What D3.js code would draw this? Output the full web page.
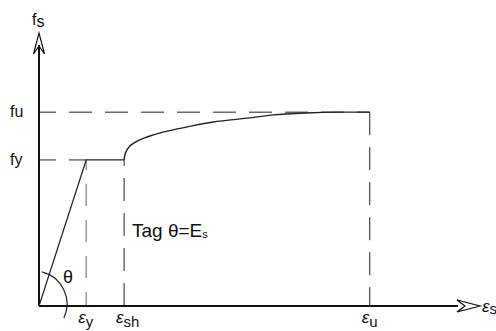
<!DOCTYPE html>
<html lang="en">

<head>
  <meta charset="utf-8">
  <title>Steel stress-strain</title>
  <script src="https://d3js.org/d3.v7.min.js" charset="utf-8"></script>
  <style type="text/css">
    body { margin: 0; background: #fff; }
    text { font-family: "Liberation Sans", Arial, sans-serif; fill: #111; }
    .guide { fill: none; stroke: #222; stroke-width: 1; stroke-dasharray: 23, 13; }
  </style>
</head>

<body>
  <script type="text/javascript">

    // characteristic strains (arbitrary units) and their labels
    var strainNames = ["y", "sh", "u"];
    var strainValues = [10.7, 19.3, 75];
    // characteristic stresses
    var stressNames = ["y", "u"];
    var stressValues = [53.5, 71];
    // strain-hardening branch
    var hardStrain = [19.3, 19.6, 20.6, 22.5, 24.5, 28.1, 33.6, 39.5, 47.8, 53.1, 60.8, 67.6, 75];
    var hardStress = [53.5, 56.0, 58.6, 60.6, 61.9, 63.7, 65.6, 67.4, 68.9, 70.0, 70.7, 71, 71];

    var width = 496, height = 331;

    var svg = d3.select("body").append("svg")
      .attr("width", width)
      .attr("height", height);

    var x = d3.scaleLinear().domain([0, 100]).range([39, 480]);
    var y = d3.scaleLinear().domain([0, 100]).range([306, 33]);

    var ey = strainValues[0], esh = strainValues[1], eu = strainValues[2];
    var fy = stressValues[0], fu = stressValues[1];

    // guide lines
    svg.append("line").attr("class", "guide")
      .attr("x1", x(0)).attr("y1", y(fu)).attr("x2", x(eu)).attr("y2", y(fu))
      .attr("stroke-dashoffset", 6);
    svg.append("line").attr("class", "guide")
      .attr("x1", x(0)).attr("y1", y(fy)).attr("x2", x(ey)).attr("y2", y(fy))
      .attr("stroke-dashoffset", 6);
    svg.append("line").attr("class", "guide")
      .attr("x1", x(eu)).attr("y1", y(fu)).attr("x2", x(eu)).attr("y2", y(0))
      .style("stroke-dasharray", "23,12");
    svg.append("line").attr("class", "guide")
      .attr("x1", x(esh)).attr("y1", y(0)).attr("x2", x(esh)).attr("y2", y(fy))
      .style("stroke-dasharray", "23,12");
    svg.append("line").attr("class", "guide")
      .attr("x1", x(ey)).attr("y1", y(0)).attr("x2", x(ey)).attr("y2", y(fy))
      .style("stroke", "#999")
      .style("stroke-width", 1.5)
      .style("stroke-dasharray", "22,14")
      .attr("stroke-dashoffset", 8);

    // elastic + yield plateau
    var lin = d3.line().x(function (d) { return x(d[0]); }).y(function (d) { return y(d[1]); });
    svg.append("path")
      .attr("d", lin([[0, 0], [ey, fy], [esh, fy]]))
      .attr("fill", "none").attr("stroke", "#222").attr("stroke-width", 1.2);

    // strain hardening
    var hard = hardStrain.map(function (s, i) { return [s, hardStress[i]]; });
    svg.append("path")
      .attr("d", lin.curve(d3.curveCatmullRom.alpha(0.5))(hard))
      .attr("fill", "none").attr("stroke", "#222").attr("stroke-width", 1.4);

    // axes
    svg.append("line")
      .attr("x1", x(0)).attr("y1", y(0)).attr("x2", 458).attr("y2", y(0))
      .attr("stroke", "#111").attr("stroke-width", 2);
    svg.append("line")
      .attr("x1", x(0)).attr("y1", y(0)).attr("x2", x(0)).attr("y2", 45)
      .attr("stroke", "#111").attr("stroke-width", 2);

    // open arrow heads
    var xt = x(100), yt = y(100);
    svg.append("path")
      .attr("d", "M" + (xt - 23) + "," + (y(0) - 6) + "L" + xt + "," + y(0) +
        "L" + (xt - 23) + "," + (y(0) + 6) + "L" + (xt - 15) + "," + y(0) + "Z")
      .attr("fill", "none").attr("stroke", "#111").attr("stroke-width", 1.2);
    svg.append("path")
      .attr("d", "M" + (x(0) - 5.5) + "," + (yt + 21) + "L" + x(0) + "," + yt +
        "L" + (x(0) + 5.5) + "," + (yt + 21) + "L" + x(0) + "," + (yt + 13) + "Z")
      .attr("fill", "none").attr("stroke", "#111").attr("stroke-width", 1.2);

    // angle marker
    var p = d3.path();
    p.arc(34, 304, 33, -1.33, 0.44);
    svg.append("path").attr("d", p.toString())
      .attr("fill", "none").attr("stroke", "#222").attr("stroke-width", 1.2);
    svg.append("text").attr("x", 63).attr("y", 283)
      .style("font-size", "18px").text("θ");

    // axis titles
    var fs = svg.append("text").attr("x", 32).attr("y", 25).style("font-size", "16px");
    fs.append("tspan").text("f");
    fs.append("tspan").attr("dy", 2).text("s");

    var es = svg.append("text").attr("x", 482).attr("y", 312).style("font-size", "17px");
    es.append("tspan").style("font-style", "italic").text("ε");
    es.append("tspan").attr("dy", 2).style("font-size", "15px").text("s");

    // stress labels
    stressNames.forEach(function (n, i) {
      var t = svg.append("text").attr("x", 10).attr("y", y(stressValues[i]) + 5)
        .style("font-size", "16px");
      t.append("tspan").text("f");
      t.append("tspan").attr("dy", 0).text(n);
    });

    // strain labels
    strainNames.forEach(function (n, i) {
      var t = svg.append("text").attr("x", x(strainValues[i]) - 8).attr("y", 323)
        .style("font-size", "17px");
      t.append("tspan").style("font-style", "italic").text("ε");
      t.append("tspan").attr("dy", 4).style("font-size", "15px").text(n);
    });

    // modulus note
    var tg = svg.append("text").attr("x", 132).attr("y", 237).style("font-size", "19px");
    tg.append("tspan").text("Tag θ=E");
    tg.append("tspan").attr("dy", 1).style("font-size", "11px").text("s");

  </script>
</body>

</html>
